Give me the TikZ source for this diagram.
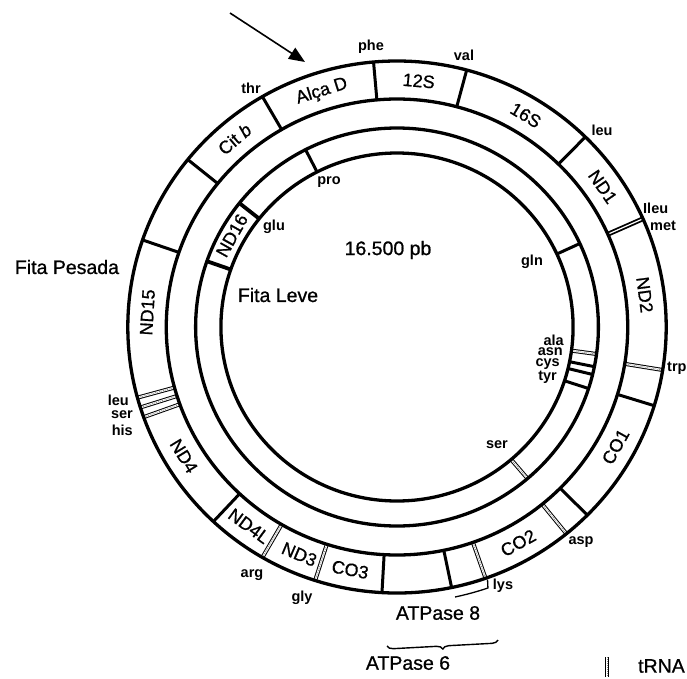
\documentclass[tikz,border=0pt]{standalone}
\usepackage{fontspec}
\setmainfont{Liberation Sans}
\newfontfamily\scanfont[FakeBold=0.9]{Liberation Sans}
\usetikzlibrary{arrows.meta,decorations.pathreplacing}
\begin{document}
\begin{tikzpicture}[x=1pt,y=1pt,
  ring/.style={line width=3.3pt},
  tick/.style={line width=3pt},
  trna/.style={line width=1pt, double=white, double distance=2pt},
  trnadots/.style={line width=0.7pt, gray, dash pattern=on 1pt off 1pt},
  gene/.style={font=\scanfont\fontsize{18}{18}\selectfont, inner sep=0pt},
  aa/.style={font=\fontsize{14.5}{14.5}\selectfont\bfseries, inner sep=0pt},
  big/.style={font=\scanfont\fontsize{19.5}{19.5}\selectfont, inner sep=0pt}]
\useasboundingbox (0,0) rectangle (687,-678);
\begin{scope}[shift={(397,-327)}, xscale=1.012]
  % outer band ticks (solid)
  \foreach \a in {95,75,45.6,-17.2,-45,-78.3,-93.2,-133,160.9,141,120}
    \draw[tick] (\a:228) -- (\a:266);
  % outer band tRNA ticks
  \foreach \a in {-9.3,-51,-70.8,-107.7,-120,195.4,197.6,199.8}{
    \draw[trna] (\a:228) -- (\a:266);
    \draw[trnadots] (\a:229) -- (\a:265);}
  % ileu / met
  \draw[line width=1.8pt,double=white,double distance=1.2pt] (24:228) -- (24:266);
  % inner band ticks
  \foreach \a in {117,24.8,-11.5,-13.8,-18}
    \draw[tick] (\a:174) -- (\a:199);
  \foreach \a in {141.5,160.7}
    \draw[line width=3.8pt] (\a:174) -- (\a:199);
  \foreach \a in {-7.8,-49.6}{
    \draw[trna] (\a:174) -- (\a:199);
    \draw[trnadots] (\a:175) -- (\a:198);}
  % rings
  \foreach \r in {266,228,199,174}
    \draw[ring] (0,0) circle (\r);
  % ATPase 8 bracket
  \draw[line width=1.3pt] (-78:276) arc[start angle=-78, end angle=-71, radius=276] -- (-70.5:268);
  % gene labels
  \node[gene, rotate=17.5] (alca) at (107.5:247) {Alça D};
  \node[gene, rotate=40.5] (citb) at (130.5:247) {Cit \textit{b}};
  \node[gene, rotate=-5] (s12) at (85:247) {12S};
  \node[gene, rotate=-31] (s16) at (59:247) {16S};
  \node[gene, rotate=-55.4] (nd1) at (34.6:247) {ND1};
  \node[gene, rotate=-82.5] (nd2) at (7.5:247) {ND2};
  \node[gene, rotate=61] (co1) at (-29:247) {CO1};
  \node[gene, rotate=29] (co2) at (-61:247) {CO2};
  \node[gene, rotate=-10.8] (co3) at (-100.8:247) {CO3};
  \node[gene, rotate=-23] (nd3) at (-113:247) {ND3};
  \node[gene, rotate=-36.3] (nd4l) at (-126.3:247) {ND4L};
  \node[gene, rotate=-58.5] (nd4) at (211.5:247) {ND4};
  \node[gene, rotate=86.6] (nd15) at (176.6:247) {ND15};
  \node[gene, rotate=60.7] (nd16) at (150.7:187) {ND16};
\end{scope}
% tRNA labels
\node[aa] (phe) at (371,-47) {phe};
\node[aa] (val) at (464,-55) {val};
\node[aa] (leuA) at (602,-130) {leu};
\node[aa, anchor=west] (ileu) at (643,-208) {Ileu};
\node[aa, anchor=west] (met) at (650,-226) {met};
\node[aa, anchor=west] (trp) at (667,-368) {trp};
\node[aa] (asp) at (581,-542) {asp};
\node[aa] (lys) at (503,-586) {lys};
\node[aa] (gly) at (302,-598) {gly};
\node[aa] (arg) at (252,-575) {arg};
\node[aa, anchor=east] (leuB) at (129,-400) {leu};
\node[aa, anchor=east] (ser) at (133,-415) {ser};
\node[aa, anchor=east] (his) at (133,-430) {his};
\node[aa] (thr) at (251,-88) {thr};
\node[aa] (pro) at (329,-182) {pro};
\node[aa] (glu) at (274,-227) {glu};
\node[aa] (gln) at (532,-262) {gln};
\node[aa, anchor=east] (ala) at (564,-340) {ala};
\node[aa, anchor=east] (asn) at (563,-352) {asn};
\node[aa, anchor=east] (cys) at (560,-364) {cys};
\node[aa, anchor=east] (tyr) at (557,-377) {tyr};
\node[aa] (serB) at (497,-445) {ser};
% central and side labels
\node[big] (pb) at (388,-250) {16.500 pb};
\node[big] (leve) at (278,-295) {Fita Leve};
\node[big] (pesada) at (67,-267) {Fita Pesada};
\node[big] (atp8) at (438,-613) {ATPase 8};
\node[big] (atp6) at (408,-663) {ATPase 6};
\draw[decorate, decoration={brace, amplitude=6pt}, line width=1.4pt] (498,-640) -- (387,-646);
% arrow
\coordinate (as) at (230,-13);
\coordinate (ae) at (305,-62);
\draw[line width=1.6pt, -{Triangle[length=16pt,width=13pt]}] (as) -- (ae);
% legend
\coordinate (lg1) at (607,-657);
\coordinate (lg2) at (607,-677);
\draw[trna] (lg1) -- (lg2);
\draw[trnadots] (lg1) -- (lg2);
\node[big, anchor=west] (trnalab) at (638,-666) {tRNA};
\end{tikzpicture}
\end{document}
